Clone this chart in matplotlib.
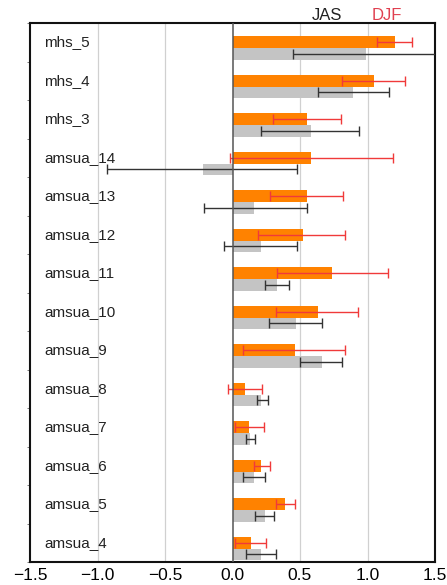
"""
Channel-wise impact bars for two seasons (JAS and DJF) with confidence intervals.
"""

import numpy as np
import matplotlib.pyplot as plt

plt.rcParams["font.family"] = ["Liberation Sans", "DejaVu Sans"]

# channels, top to bottom
channels = ["mhs_5", "mhs_4", "mhs_3", "amsua_14", "amsua_13", "amsua_12",
            "amsua_11", "amsua_10", "amsua_9", "amsua_8", "amsua_7",
            "amsua_6", "amsua_5", "amsua_4"]

# DJF mean and interval bounds
djf_val = [1.20, 1.05, 0.55, 0.58, 0.55, 0.52, 0.74, 0.63, 0.46, 0.09, 0.12, 0.21, 0.39, 0.14]
djf_lo = [1.07, 0.81, 0.30, -0.02, 0.28, 0.19, 0.33, 0.32, 0.08, -0.03, 0.02, 0.16, 0.32, 0.02]
djf_hi = [1.33, 1.28, 0.80, 1.19, 0.82, 0.83, 1.15, 0.93, 0.83, 0.22, 0.23, 0.28, 0.46, 0.25]

# JAS mean and interval bounds
jas_val = [0.99, 0.89, 0.58, -0.22, 0.16, 0.21, 0.33, 0.47, 0.66, 0.21, 0.13, 0.16, 0.24, 0.21]
jas_lo = [0.45, 0.63, 0.21, -0.93, -0.21, -0.06, 0.24, 0.27, 0.50, 0.18, 0.10, 0.08, 0.17, 0.10]
jas_hi = [1.60, 1.16, 0.94, 0.48, 0.55, 0.48, 0.42, 0.66, 0.81, 0.26, 0.17, 0.24, 0.31, 0.32]

xticks = [-1.5, -1.0, -0.5, 0.0, 0.5, 1.0, 1.5]

n = len(channels)
y = np.arange(n)[::-1].astype(float)
h = 0.3

fig = plt.figure(figsize=(4.47, 5.85), dpi=100)
ax = fig.add_axes([30 / 447, 1 - 562 / 585, 405 / 447, 539 / 585])

for gx in [-1.0, -0.5, 0.5, 1.0]:
    ax.axvline(gx, color="#d0d0d0", lw=0.9, zorder=0)

djf_val = np.array(djf_val)
jas_val = np.array(jas_val)
djf_err = [np.clip(djf_val - djf_lo, 0, None), np.clip(np.array(djf_hi) - djf_val, 0, None)]
jas_err = [np.clip(jas_val - jas_lo, 0, None), np.clip(np.array(jas_hi) - jas_val, 0, None)]

ax.barh(y, djf_val, height=h, color="#ff8200", zorder=2)
ax.barh(y - h, jas_val, height=h, color="#c4c4c4", zorder=2)

ax.errorbar(djf_val, y, xerr=djf_err, fmt="none", ecolor="#f03a3a",
            elinewidth=1.0, capsize=3.5, capthick=1.0, zorder=3)
ax.errorbar(jas_val, y - h, xerr=jas_err, fmt="none", ecolor="#333333",
            elinewidth=1.0, capsize=3.5, capthick=1.0, zorder=3)

ax.axvline(0, color="#555555", lw=1.1, zorder=4)

for yi, name in zip(y, channels):
    ax.text(-1.396, yi, name, ha="left", va="center", fontsize=11,
            color="#222222", zorder=5)

ax.set_xlim(-1.5, 1.5)
ax.set_ylim(-0.5, n - 0.5)
ax.set_xticks(xticks)
ax.set_xticklabels([f"{t:.1f}".replace("-", "\u2212") for t in xticks], fontsize=12.5)
ax.tick_params(axis="x", length=0, pad=4)
ax.set_yticks(np.arange(n + 1) - 0.5)
ax.set_yticklabels([])
ax.tick_params(axis="y", length=2, width=0.6, color="#666666")

for sp in ax.spines.values():
    sp.set_linewidth(1.5)
    sp.set_color("#111111")

fig.text(327 / 447, 1 - 15 / 585, "JAS", ha="center", va="center",
         fontsize=12, color="#222222")
fig.text(387 / 447, 1 - 15 / 585, "DJF", ha="center", va="center",
         fontsize=12, color="#e04050")

fig.savefig("out.png", dpi=100)
